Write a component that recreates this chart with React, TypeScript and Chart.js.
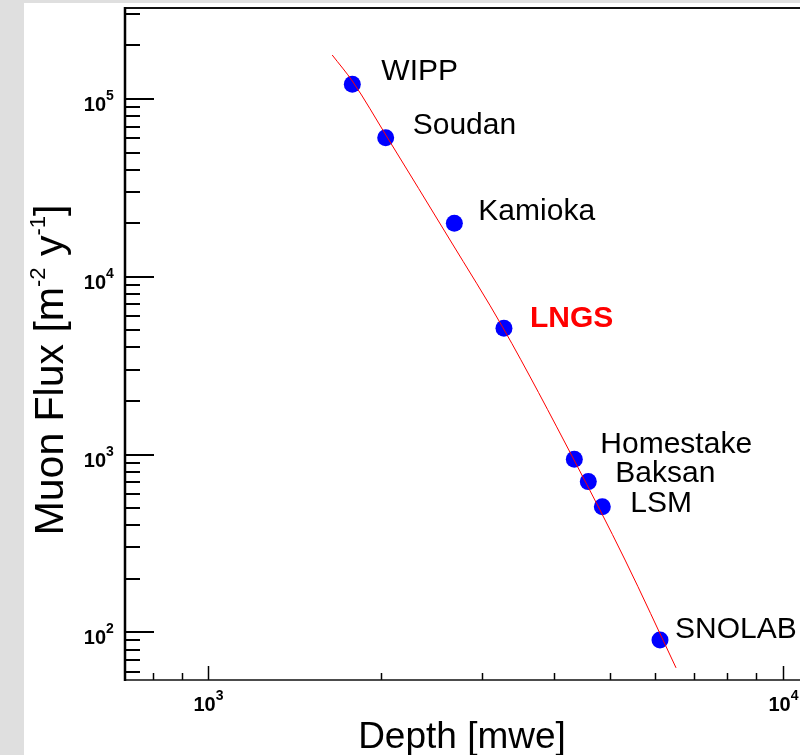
import React, { useEffect, useRef } from "react";
import { Chart, registerables } from "chart.js";

Chart.register(...registerables);

// ---- data ----
const labs = ["WIPP", "Soudan", "Kamioka", "LNGS", "Homestake", "Baksan", "LSM", "SNOLAB"];
const depth = [1781, 2036, 2681, 3271, 4337, 4587, 4852, 6114];
const flux = [121000, 60600, 20000, 5134, 941, 704, 509, 90.6];
const curveDepth = [1643, 1786, 2047, 2635, 3260, 4332, 5316, 6520];
const curveFlux = [176800, 124600, 61100, 16100, 5152, 932, 255, 63.1];
const xRange = [716, 10717];
const yRange = [53.9, 325000];

// label layout (pixel offsets from point centre to text left/baseline)
const labelOffsets = [
  [29, -4], [27, -4], [24, -3], [26, -1], [26, -6], [27, 0], [28, 5], [15, -2],
];

const FONT = '"Liberation Sans", Arial, Helvetica, sans-serif';

const drawPlugin = {
  id: "rootStyle",
  beforeDraw(chart: any) {
    const { ctx, width, height } = chart;
    ctx.save();
    ctx.fillStyle = "#dfdfdf";
    ctx.fillRect(0, 0, width, height);
    ctx.fillStyle = "#ffffff";
    ctx.fillRect(24, 3, width - 24, height - 3);
    ctx.restore();
  },
  beforeDatasetsDraw(chart: any) {
    const { ctx, chartArea } = chart;
    const { left, right, top, bottom } = chartArea;
    const xs = chart.scales.x;
    const ys = chart.scales.y;
    ctx.save();
    ctx.strokeStyle = "#000";
    // y ticks
    ctx.lineWidth = 2;
    for (let d = Math.floor(Math.log10(ys.min)); d <= Math.ceil(Math.log10(ys.max)); d++) {
      for (let m = 1; m <= 9; m++) {
        const v = m * Math.pow(10, d);
        if (v < ys.min || v > ys.max) continue;
        const py = Math.round(ys.getPixelForValue(v));
        ctx.beginPath();
        ctx.moveTo(left, py);
        ctx.lineTo(left + (m === 1 ? 29 : 15), py);
        ctx.stroke();
        if (m === 1) {
          ctx.fillStyle = "#000";
          ctx.font = `bold 20px ${FONT}`;
          ctx.textAlign = "right";
          ctx.textBaseline = "alphabetic";
          ctx.fillText("10", left - 19, py + 12);
          ctx.font = `bold 14px ${FONT}`;
          ctx.textAlign = "left";
          ctx.fillText(String(d), left - 19, py + 1);
        }
      }
    }
    // x ticks
    ctx.lineWidth = 1.5;
    for (let d = Math.floor(Math.log10(xs.min)); d <= Math.ceil(Math.log10(xs.max)); d++) {
      for (let m = 1; m <= 9; m++) {
        const v = m * Math.pow(10, d);
        if (v < xs.min || v > xs.max) continue;
        const px = Math.round(xs.getPixelForValue(v)) + 0.5;
        ctx.beginPath();
        ctx.moveTo(px, bottom);
        ctx.lineTo(px, bottom - (m === 1 ? 14 : 7));
        ctx.stroke();
        if (m === 1) {
          ctx.fillStyle = "#000";
          ctx.font = `bold 20px ${FONT}`;
          const w1 = ctx.measureText("10").width;
          ctx.font = `bold 14px ${FONT}`;
          const w2 = ctx.measureText(String(d)).width;
          const x0 = px - (w1 + w2) / 2;
          ctx.textAlign = "left";
          ctx.textBaseline = "alphabetic";
          ctx.font = `bold 20px ${FONT}`;
          ctx.fillText("10", x0, bottom + 31);
          ctx.font = `bold 14px ${FONT}`;
          ctx.fillText(String(d), x0 + w1, bottom + 20);
        }
      }
    }
    // frame
    ctx.strokeStyle = "#111";
    ctx.lineWidth = 2;
    ctx.beginPath();
    ctx.moveTo(left, top);
    ctx.lineTo(right, top);
    ctx.stroke();
    ctx.lineWidth = 1.5;
    ctx.beginPath();
    ctx.moveTo(left, bottom);
    ctx.lineTo(right, bottom);
    ctx.stroke();
    ctx.strokeStyle = "#000";
    ctx.lineWidth = 2.5;
    ctx.beginPath();
    ctx.moveTo(left, top - 1);
    ctx.lineTo(left, bottom + 1);
    ctx.stroke();

    // axis titles
    ctx.fillStyle = "#000";
    ctx.font = `37px ${FONT}`;
    ctx.textAlign = "center";
    ctx.textBaseline = "alphabetic";
    ctx.fillText("Depth [mwe]", 462, 748);

    // y title with superscripts
    const parts: [string, boolean][] = [
      ["Muon Flux [m", false],
      ["-2", true],
      [" y", false],
      ["-1", true],
      ["]", false],
    ];
    const mainF = `41px ${FONT}`;
    const supF = `22px ${FONT}`;
    let total = 0;
    const widths = parts.map(([t, s]) => {
      ctx.font = s ? supF : mainF;
      const w = ctx.measureText(t).width;
      total += w;
      return w;
    });
    ctx.save();
    ctx.translate(63, 370);
    ctx.rotate(-Math.PI / 2);
    ctx.textAlign = "left";
    let cx = -total / 2;
    parts.forEach(([t, s], i) => {
      ctx.font = s ? supF : mainF;
      ctx.fillText(t, cx, s ? -18 : 0);
      cx += widths[i];
    });
    ctx.restore();
    ctx.restore();
  },
  afterDatasetsDraw(chart: any) {
    const { ctx } = chart;
    const meta = chart.getDatasetMeta(1);
    ctx.save();
    ctx.textAlign = "left";
    ctx.textBaseline = "alphabetic";
    meta.data.forEach((pt: any, i: number) => {
      const isL = labs[i] === "LNGS";
      ctx.font = `${isL ? "bold " : ""}30px ${FONT}`;
      ctx.fillStyle = isL ? "#ff0000" : "#000";
      ctx.fillText(labs[i], pt.x + labelOffsets[i][0], pt.y + labelOffsets[i][1]);
    });
    ctx.restore();
  },
};

export default function App() {
  const ref = useRef<HTMLCanvasElement | null>(null);
  useEffect(() => {
    if (!ref.current) return;
    const chart = new Chart(ref.current, {
      type: "scatter",
      data: {
        datasets: [
          {
            label: "fit",
            data: curveDepth.map((x, i) => ({ x, y: curveFlux[i] })),
            showLine: true,
            borderColor: "#ff0000",
            borderWidth: 1,
            pointRadius: 0,
            tension: 0.4,
            cubicInterpolationMode: "monotone",
            order: 0,
          } as any,
          {
            label: "labs",
            data: depth.map((x, i) => ({ x, y: flux[i] })),
            backgroundColor: "#0000ff",
            borderWidth: 0,
            pointRadius: 8.5,
            pointHoverRadius: 8.5,
            order: 1,
          },
        ],
      },
      options: {
        animation: false,
        responsive: false,
        maintainAspectRatio: false,
        events: [],
        layout: { autoPadding: false, padding: { left: 125, top: 8, right: 0, bottom: 75 } },
        plugins: { legend: { display: false }, tooltip: { enabled: false } },
        scales: {
          x: { type: "logarithmic", min: xRange[0], max: xRange[1], display: false },
          y: { type: "logarithmic", min: yRange[0], max: yRange[1], display: false },
        },
      },
      plugins: [drawPlugin],
    });
    return () => chart.destroy();
  }, []);
  return (
    <div style={{ position: "fixed", left: 0, top: 0, width: 800, height: 755 }}>
      <canvas ref={ref} width={800} height={755} style={{ display: "block" }} />
    </div>
  );
}
